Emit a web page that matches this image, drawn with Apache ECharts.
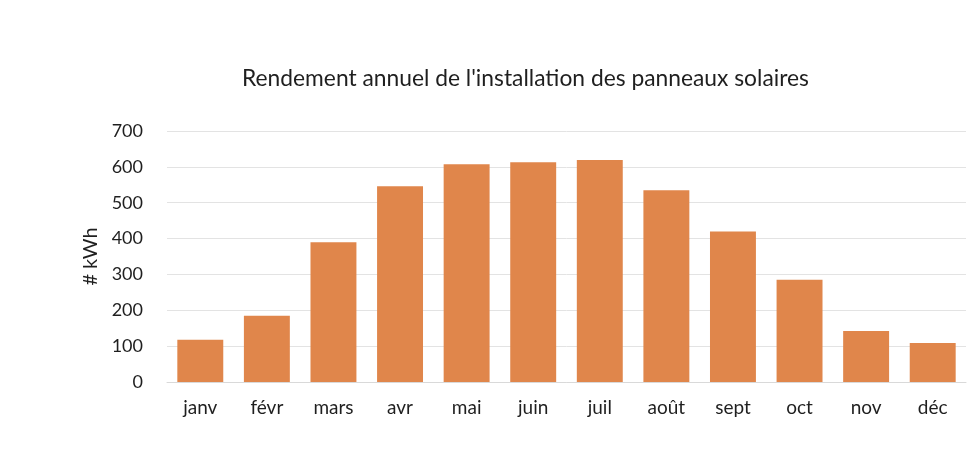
<!DOCTYPE html>
<html>
<head>
<meta charset="utf-8">
<script src="https://cdn.jsdelivr.net/npm/echarts@6/dist/echarts.min.js"></script>
<style>
  html, body { margin: 0; padding: 0; background: #fff; }
  #main { width: 972px; height: 469px; }
</style>
</head>
<body>
<div id="main"></div>
<script>
// monthly yield
var months = ['janv', 'févr', 'mars', 'avr', 'mai', 'juin', 'juil', 'août', 'sept', 'oct', 'nov', 'déc'];
var kwh = [118, 185, 390, 546, 607, 613, 619, 535, 420, 285, 142, 109];
var yTicks = [0, 100, 200, 300, 400, 500, 600, 700];

var myChart = echarts.init(document.getElementById('main'));

var option = {
    backgroundColor: '#ffffff',
    textStyle: { fontFamily: 'Lato' },
    title: {
        text: "Rendement annuel de l'installation des panneaux solaires",
        left: 237,
        top: 62,
        textStyle: {
            color: '#1f1f1f',
            fontSize: 22.8,
            fontWeight: 'normal',
            fontFamily: 'Lato'
        }
    },
    grid: {
        left: 167,
        right: 6,
        top: 131,
        bottom: 87
    },
    xAxis: {
        type: 'category',
        data: months,
        axisLine: { show: true, lineStyle: { color: '#d9d9d9' } },
        axisTick: { show: false },
        axisLabel: {
            color: '#1f1f1f',
            fontSize: 19,
            margin: 16
        }
    },
    yAxis: {
        type: 'value',
        min: yTicks[0],
        max: yTicks[yTicks.length - 1],
        interval: 100,
        name: '# kWh',
        nameLocation: 'middle',
        nameGap: 64,
        nameRotate: 90,
        nameTextStyle: { color: '#1f1f1f', fontSize: 20 },
        axisLine: { show: false },
        axisTick: { show: false },
        axisLabel: { color: '#1f1f1f', fontSize: 18, margin: 24 },
        splitLine: { lineStyle: { color: '#e3e3e3', width: 1 } }
    },
    series: [{
        name: '# kWh',
        type: 'bar',
        data: kwh,
        barCategoryGap: '31%',
        itemStyle: { color: '#E0864B' }
    }]
};

myChart.setOption(option);
</script>
</body>
</html>
